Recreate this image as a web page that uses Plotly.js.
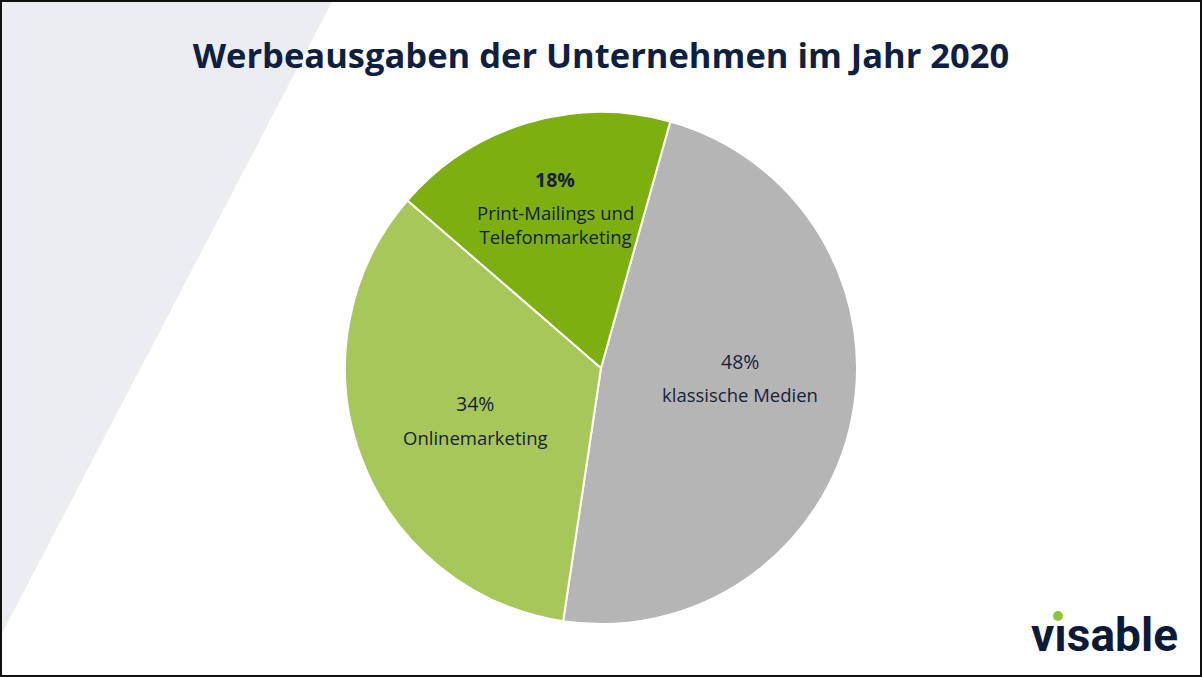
<!DOCTYPE html>
<html>
<head>
<meta charset="utf-8">
<script src="https://cdn.plot.ly/plotly-3.0.1.min.js"></script>
<style>
  html, body { margin: 0; padding: 0; background: #ffffff; }
  #chart { width: 1202px; height: 677px; }
</style>
</head>
<body>
<div id="chart"></div>
<script>
// ---- Data ----
const categories = ["klassische Medien", "Onlinemarketing", "Print-Mailings und<br>Telefonmarketing"];
const shares = [48, 34, 18];
const sliceColors = ["#b5b5b5", "#a7c75a", "#7daf10"];
const titleText = "Werbeausgaben der Unternehmen im Jahr 2020";

// ---- Label placement (layout only, paper px) ----
const labelPos = [
  {x: 740, yPct: 361, yLab: 394, boldPct: false},
  {x: 475, yPct: 403, yLab: 437, boldPct: false},
  {x: 555, yPct: 179, yLab: 224, boldPct: true}
];

const W = 1202, H = 677;
const navy = "#0e1f3f";
const px = v => v / W;
const py = v => 1 - v / H;

const annotations = [];
categories.forEach((c, i) => {
  const p = labelPos[i];
  const pct = shares[i] + "%";
  annotations.push({
    xref: "paper", yref: "paper", x: px(p.x), y: py(p.yPct),
    xanchor: "center", yanchor: "middle", showarrow: false,
    text: p.boldPct ? "<b>" + pct + "</b>" : pct,
    font: {family: "Open Sans", size: 19.5, color: "#18223a"}
  });
  annotations.push({
    xref: "paper", yref: "paper", x: px(p.x), y: py(p.yLab),
    xanchor: "center", yanchor: "middle", showarrow: false,
    text: c,
    font: {family: "Open Sans", size: 18.5, color: "#18223a"}
  });
});

// logo
annotations.push({
  xref: "paper", yref: "paper", x: px(1104), y: py(635),
  xanchor: "center", yanchor: "middle", showarrow: false,
  text: "<b>v\u0131sable</b>",
  font: {family: "Roboto", size: 46, color: "#0c1a38"}
});

const cx = 601, cy = 368, R = 256;

const data = [{
  type: "pie",
  labels: categories,
  values: shares,
  sort: false,
  direction: "clockwise",
  rotation: 15.7,
  marker: {colors: sliceColors, line: {color: "#ffffff", width: 2}},
  textinfo: "none",
  hoverinfo: "skip",
  showlegend: false,
  domain: {x: [px(cx - R), px(cx + R)], y: [py(cy + R), py(cy - R)]}
}];

const layout = {
  width: W, height: H,
  margin: {l: 0, r: 0, t: 0, b: 0},
  paper_bgcolor: "#ffffff",
  showlegend: false,
  title: {
    text: "<b>" + titleText + "</b>",
    font: {family: "Open Sans", size: 34.5, color: navy},
    x: 0.5, xanchor: "center", y: py(56), yanchor: "middle"
  },
  shapes: [
    {type: "path", xref: "paper", yref: "paper", layer: "below",
     path: `M 0 1 L ${px(333)} 1 L 0 ${py(637)} Z`,
     fillcolor: "#ebedf0", line: {width: 0}},
    {type: "circle", xref: "paper", yref: "paper",
     x0: px(1053), x1: px(1063), y0: py(621), y1: py(611),
     fillcolor: "#8cc63f", line: {width: 0}},
    {type: "rect", xref: "paper", yref: "paper",
     x0: px(1), x1: px(1201), y0: py(676), y1: py(1),
     fillcolor: "rgba(0,0,0,0)", line: {color: "#111111", width: 2}}
  ],
  annotations: annotations
};

Plotly.newPlot("chart", data, layout, {displayModeBar: false, staticPlot: true});
</script>
</body>
</html>
